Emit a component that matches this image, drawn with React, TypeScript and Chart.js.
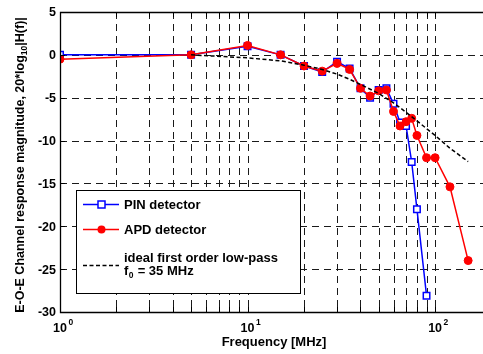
import { useEffect, useRef } from "react";
import { Chart, registerables } from "chart.js";
Chart.register(...registerables);

const pinFreq = [1, 5, 10, 15, 20, 25, 30, 35, 40, 45, 50, 55, 60, 65, 70, 75, 80, 90];
const pinDb = [0, 0, 1.0, 0, -1.3, -2.0, -0.8, -1.6, -3.9, -5.0, -4.1, -3.9, -5.7, -7.9, -8.3, -12.5, -18.0, -28.1];

const apdFreq = [1, 5, 10, 15, 20, 25, 30, 35, 40, 45, 50, 55, 60, 65, 70, 75, 80, 90, 100, 120, 150];
const apdDb = [-0.5, 0, 1.1, 0, -1.3, -1.9, -1.0, -1.7, -3.9, -4.8, -4.2, -4.1, -6.6, -8.3, -7.8, -7.4, -9.4, -12.0, -12.0, -15.4, -24.0];

const idealFreq = [5, 10, 15, 20, 25, 30, 35, 40, 50, 60, 70, 80, 90, 100, 120, 150];
const idealDb = [0, -0.35, -0.7, -1.2, -1.7, -2.25, -2.85, -3.45, -4.5, -5.6, -6.7, -7.7, -8.6, -9.4, -10.9, -12.45];

const xGridValues = [2, 3, 4, 5, 6, 7, 8, 9, 10, 20, 30, 40, 50, 60, 70, 80, 90, 100];
const xMajor = [0, 1, 2];
const yTicks = [5, 0, -5, -10, -15, -20, -25, -30];
const yGridValues = [0, -5, -10, -15, -20, -25];

const X_MIN = 1;
const X_MAX = 180;
const Y_MIN = -30;
const Y_MAX = 5;

const FONT = "'Liberation Sans', Arial, sans-serif";

const pts = (xs: number[], ys: number[]) => xs.map((x, i) => ({ x, y: ys[i] }));

const framePlugin = {
  id: "frame",
  beforeDatasetsDraw(chart: any) {
    const { ctx, chartArea: a, scales } = chart;
    const x = scales.x;
    const y = scales.y;
    ctx.save();
    ctx.strokeStyle = "#1a1a1a";
    ctx.lineWidth = 1;
    ctx.setLineDash([7, 5]);
    for (const v of xGridValues) {
      const px = Math.round(x.getPixelForValue(v)) + 0.5;
      ctx.beginPath();
      ctx.moveTo(px, a.top);
      ctx.lineTo(px, a.bottom);
      ctx.stroke();
    }
    for (const v of yGridValues) {
      const py = Math.round(y.getPixelForValue(v)) + 0.5;
      ctx.beginPath();
      ctx.moveTo(a.left, py);
      ctx.lineTo(a.right, py);
      ctx.stroke();
    }
    ctx.restore();
  },
  afterDraw(chart: any) {
    const { ctx, chartArea: a, scales } = chart;
    const x = scales.x;
    const y = scales.y;
    ctx.save();
    ctx.setLineDash([]);
    ctx.strokeStyle = "#000";
    ctx.lineWidth = 1;
    // inward ticks
    for (const v of xGridValues) {
      const px = Math.round(x.getPixelForValue(v)) + 0.5;
      ctx.beginPath();
      ctx.moveTo(px, a.bottom);
      ctx.lineTo(px, a.bottom - 5);
      ctx.moveTo(px, a.top);
      ctx.lineTo(px, a.top + 5);
      ctx.stroke();
    }
    for (const v of yTicks) {
      const py = Math.round(y.getPixelForValue(v)) + 0.5;
      ctx.beginPath();
      ctx.moveTo(a.left, py);
      ctx.lineTo(a.left + 5, py);
      ctx.stroke();
    }
    // axes box (right edge falls outside the picture)
    ctx.lineWidth = 1.3;
    ctx.beginPath();
    ctx.moveTo(a.right, Math.round(a.top) + 0.5);
    ctx.lineTo(Math.round(a.left) + 0.5, Math.round(a.top) + 0.5);
    ctx.lineTo(Math.round(a.left) + 0.5, Math.round(a.bottom) + 0.5);
    ctx.lineTo(a.right, Math.round(a.bottom) + 0.5);
    ctx.stroke();

    ctx.fillStyle = "#000";
    // y tick labels
    ctx.font = `bold 12.5px ${FONT}`;
    ctx.textAlign = "right";
    ctx.textBaseline = "middle";
    for (const v of yTicks) {
      ctx.fillText(String(v), a.left - 4, y.getPixelForValue(v) + 1);
    }
    // x tick labels 10^n
    ctx.textBaseline = "alphabetic";
    for (const e of xMajor) {
      const px = x.getPixelForValue(Math.pow(10, e));
      ctx.font = `bold 12.5px ${FONT}`;
      ctx.textAlign = "center";
      ctx.fillText("10", px, 332);
      const w = ctx.measureText("10").width;
      ctx.font = `bold 8.5px ${FONT}`;
      ctx.textAlign = "left";
      ctx.fillText(String(e), px + w / 2 + 1.5, 325);
    }
    // x title
    ctx.font = `bold 13px ${FONT}`;
    ctx.textAlign = "center";
    ctx.fillText("Frequency [MHz]", 274, 346);

    // y title with subscript
    ctx.save();
    ctx.translate(24, 165);
    ctx.rotate(-Math.PI / 2);
    const main = `bold 12.5px ${FONT}`;
    const sub = `bold 8.5px ${FONT}`;
    const parts: [string, string, number][] = [
      ["E-O-E Channel response magnitude, 20*log", main, 0],
      ["10", sub, 3],
      ["|H(f)|", main, 0],
    ];
    let total = 0;
    for (const [t, f] of parts) {
      ctx.font = f;
      total += ctx.measureText(t).width;
    }
    let cx = -total / 2;
    ctx.textAlign = "left";
    for (const [t, f, dy] of parts) {
      ctx.font = f;
      ctx.fillText(t, cx, dy);
      cx += ctx.measureText(t).width;
    }
    ctx.restore();

    // legend
    ctx.fillStyle = "#fff";
    ctx.fillRect(76.5, 190.5, 224, 103);
    ctx.strokeStyle = "#000";
    ctx.lineWidth = 1;
    ctx.strokeRect(76.5, 190.5, 224, 103);
    ctx.font = `bold 13px ${FONT}`;
    ctx.textAlign = "left";
    ctx.textBaseline = "middle";
    // PIN
    ctx.strokeStyle = "#0000ff";
    ctx.lineWidth = 1.5;
    ctx.beginPath();
    ctx.moveTo(83, 204.5);
    ctx.lineTo(119, 204.5);
    ctx.stroke();
    ctx.fillStyle = "#fff";
    ctx.fillRect(98, 201, 7, 7);
    ctx.strokeRect(98, 201, 7, 7);
    ctx.fillStyle = "#000";
    ctx.fillText("PIN detector", 124, 205);
    // APD
    ctx.strokeStyle = "#ff0000";
    ctx.beginPath();
    ctx.moveTo(83, 229.5);
    ctx.lineTo(119, 229.5);
    ctx.stroke();
    ctx.fillStyle = "#ff0000";
    ctx.beginPath();
    ctx.arc(101.5, 229.5, 4, 0, Math.PI * 2);
    ctx.fill();
    ctx.fillStyle = "#000";
    ctx.fillText("APD detector", 124, 230);
    // ideal
    ctx.strokeStyle = "#000";
    ctx.setLineDash([4, 2.5]);
    ctx.beginPath();
    ctx.moveTo(83, 265.5);
    ctx.lineTo(119, 265.5);
    ctx.stroke();
    ctx.setLineDash([]);
    ctx.textBaseline = "alphabetic";
    ctx.fillText("ideal first order low-pass", 124, 262);
    ctx.fillText("f", 124, 275);
    let fx = 124 + ctx.measureText("f").width;
    ctx.font = `bold 8.5px ${FONT}`;
    ctx.fillText("0", fx + 0.5, 278);
    fx += ctx.measureText("0").width + 1;
    ctx.font = `bold 13px ${FONT}`;
    ctx.fillText(" = 35 MHz", fx, 275);
    ctx.restore();
  },
};

export default function App() {
  const ref = useRef<HTMLCanvasElement>(null);
  useEffect(() => {
    document.body.style.margin = "0";
    const canvas = ref.current;
    if (!canvas) return;
    const chart = new Chart(canvas, {
      type: "line",
      data: {
        datasets: [
          {
            label: "ideal first order low-pass",
            data: pts(idealFreq, idealDb),
            borderColor: "#000",
            borderWidth: 1.5,
            borderDash: [4, 2.5],
            pointRadius: 0,
            fill: false,
            tension: 0,
            order: 0,
          },
          {
            label: "APD detector",
            data: pts(apdFreq, apdDb),
            borderColor: "#ff0000",
            backgroundColor: "#ff0000",
            borderWidth: 1.5,
            pointStyle: "circle",
            pointRadius: 4,
            pointBackgroundColor: "#ff0000",
            pointBorderColor: "#ff0000",
            pointBorderWidth: 1,
            fill: false,
            tension: 0,
            order: 1,
          },
          {
            label: "PIN detector",
            data: pts(pinFreq, pinDb),
            borderColor: "#0000ff",
            backgroundColor: "#ffffff",
            borderWidth: 1.5,
            pointStyle: "rect",
            pointRadius: 4.6,
            pointBackgroundColor: "#ffffff",
            pointBorderColor: "#0000ff",
            pointBorderWidth: 1.5,
            fill: false,
            tension: 0,
            order: 2,
          },
        ],
      },
      options: {
        responsive: false,
        animation: false,
        events: [],
        layout: { autoPadding: false, padding: { left: 60, right: 0, top: 12, bottom: 42 } },
        plugins: { legend: { display: false }, tooltip: { enabled: false }, title: { display: false } },
        scales: {
          x: { type: "logarithmic", min: X_MIN, max: X_MAX, display: false },
          y: { type: "linear", min: Y_MIN, max: Y_MAX, display: false },
        },
      },
      plugins: [framePlugin],
    });
    return () => chart.destroy();
  }, []);
  return (
    <div style={{ position: "absolute", left: 0, top: 0, width: 483, height: 354, background: "#fff" }}>
      <canvas ref={ref} width={483} height={354} style={{ display: "block", width: 483, height: 354 }} />
    </div>
  );
}
